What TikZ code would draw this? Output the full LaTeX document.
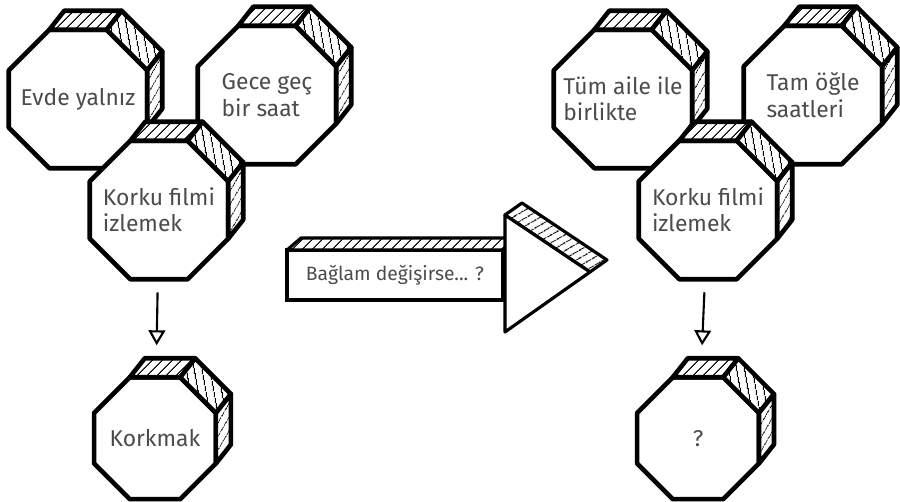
\documentclass[tikz,border=0pt]{standalone}
\usepackage{fontspec}
\setmainfont{Fira Sans}
\usetikzlibrary{shapes.geometric, arrows.meta, patterns.meta, positioning}

% hatched side faces behind an octagon node
\newcommand{\sidefaces}[1]{%
  \draw[face, pattern={Lines[angle=45,distance=4pt,line width=0.6pt]}]
    (#1.corner 2) -- (#1.corner 1) -- ([shift={(15,-19)}]#1.corner 1) -- ([shift={(15,-19)}]#1.corner 2) -- cycle;
  \draw[face, pattern={Lines[angle=100,distance=4pt,line width=0.6pt]}]
    (#1.corner 1) -- (#1.corner 8) -- ([shift={(15,-19)}]#1.corner 8) -- ([shift={(15,-19)}]#1.corner 1) -- cycle;
  \draw[face, pattern={Lines[angle=60,distance=4pt,line width=0.6pt]}]
    (#1.corner 8) -- (#1.corner 7) -- ([shift={(15,-19)}]#1.corner 7) -- ([shift={(15,-19)}]#1.corner 8) -- cycle;
}

\begin{document}
\begin{tikzpicture}[
        x=0.02cm, y=-0.02cm,
        octo/.style={regular polygon, regular polygon sides=8, draw, fill=white, line width=2.6pt, line join=round,
            minimum size=3cm, inner sep=-0.8cm, outer sep=0pt, align=left, text=black!70, font=\fontsize{13}{15}\selectfont},
        small/.style={octo, minimum size=2.64cm},
        face/.style={draw, line width=2.6pt, line join=round, preaction={fill=white}},
        banner/.style={draw, fill=white, rectangle, line width=1.8pt, minimum width=4.32cm, minimum height=1cm,
            inner sep=0pt, outer sep=0pt, text=black!70, font=\fontsize{11}{14}\selectfont},
        flow/.style={-{Triangle[open, length=8.5pt, width=9.5pt]}, line width=1.2pt, shorten <=0.26cm, shorten >=0.64cm}
    ]
        \useasboundingbox (0,0) rectangle (900,502);

        % Left group
        \node (evde) [octo] at (78,99) {Evde yalnız};
        \sidefaces{evde}
        \node (gece) [octo] at (267,95) {Gece geç\\bir saat};
        \sidefaces{gece}
        \node (korku) [octo] at (159,210) {Korku filmi\\izlemek};
        \sidefaces{korku}
        \node (korkmak) [small, below=1.96cm of korku, xshift=-0.08cm] {Korkmak};
        \sidefaces{korkmak}
        \draw [flow] (korku) -- (korkmak);

        % Context arrow
        \node (baglam) [banner] at (395,275) {Bağlam değişirse... ?};
        \draw[face, line width=1.8pt, pattern={Lines[angle=45,distance=4pt,line width=0.6pt]}]
            (baglam.north west) -- ([shift={(14,-12)}]baglam.north west) -- ([shift={(14,-12)}]baglam.north east) -- (baglam.north east) -- cycle;
        \coordinate (headtop) at ([shift={(2,-60)}]baglam.east);
        \coordinate (headtip) at ([shift={(87,-3)}]baglam.east);
        \coordinate (headbot) at ([shift={(2,57)}]baglam.east);
        \draw[face, line width=1.8pt, pattern={Lines[angle=30,distance=4pt,line width=0.6pt]}]
            (headtop) -- (headtip) -- ([shift={(17,-12)}]headtip) -- ([shift={(17,-12)}]headtop) -- cycle;
        \draw[line width=1.8pt, line join=round, fill=white] (headtop) -- (headtip) -- (headbot) -- cycle;

        % Right group
        \node (tum) [octo] at (623,99) {Tüm aile ile\\birlikte};
        \sidefaces{tum}
        \node (tam) [octo] at (813,95) {Tam öğle\\saatleri};
        \sidefaces{tam}
        \node (korku2) [octo] at (708,210) {Korku filmi\\izlemek};
        \sidefaces{korku2}
        \node (soru) [small, below=1.96cm of korku2, xshift=-0.2cm] {?};
        \sidefaces{soru}
        \draw [flow] (korku2) -- (soru);
    \end{tikzpicture}
\end{document}
